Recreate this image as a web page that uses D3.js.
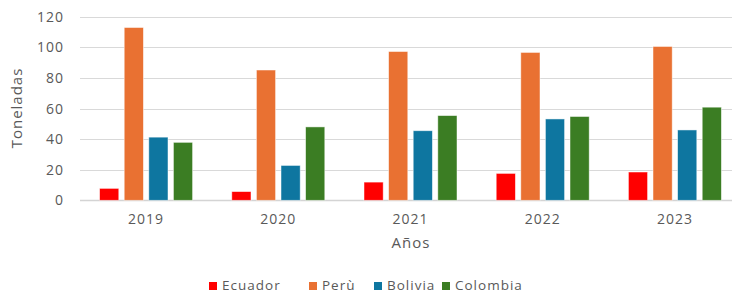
<!DOCTYPE html>
<html lang="es">
  <head>
    <meta charset="utf-8">
    <title>Toneladas por año</title>
    <script src="https://d3js.org/d3.v7.min.js"></script>
    <style>
      body { margin: 0; background: #fff; }
      text { font-family: "Open Sans", sans-serif; fill: #595959; letter-spacing: 1px; }
    </style>
  </head>
  <body>
    <div id="chart"></div>
    <script>
      var w = 732;
      var h = 294;

      // data
      var years = ["2019", "2020", "2021", "2022", "2023"];
      var countries = ["Ecuador", "Perù", "Bolivia", "Colombia"];
      var ecuador  = [7.8, 5.7, 11.9, 17.6, 18.5];
      var peru     = [113, 85.2, 97.3, 96.7, 100.6];
      var bolivia  = [41.3, 22.8, 45.5, 53.2, 46];
      var colombia = [37.9, 48, 55.4, 54.8, 60.9];
      var yTicks = [0, 20, 40, 60, 80, 100, 120];
      var colors = ["#ff0000", "#e97132", "#0e76a0", "#3b7d23"];

      var series = [ecuador, peru, bolivia, colombia];

      var svg = d3.select("#chart")
                  .append("svg")
                  .attr("width", w)
                  .attr("height", h);

      var x = d3.scaleBand()
                .domain(years)
                .range([80, 741]);

      var y = d3.scaleLinear()
                .domain([0, 120])
                .range([200.3, 16.8]);

      // gridlines
      svg.append("g")
         .selectAll("line")
         .data(yTicks)
         .enter()
         .append("line")
         .attr("x1", 80)
         .attr("x2", w)
         .attr("y1", function(d) { return Math.round(y(d)) + 0.5; })
         .attr("y2", function(d) { return Math.round(y(d)) + 0.5; })
         .style("stroke", function(d) { return d === 0 ? "#d4d4d4" : "#d9d9d9"; })
         .style("stroke-width", function(d) { return d === 0 ? 1.5 : 1.2; });

      // y labels
      svg.append("g")
         .selectAll("text")
         .data(yTicks)
         .enter()
         .append("text")
         .attr("x", 64)
         .attr("y", function(d) { return y(d) + 5; })
         .attr("text-anchor", "end")
         .style("font-size", "14px")
         .text(function(d) { return d; });

      // bars
      var inner = d3.scaleBand()
                    .domain(countries)
                    .range([-46.5, 46.5])
                    .paddingInner(0.22);

      var groups = svg.append("g")
                      .selectAll("g")
                      .data(years)
                      .enter()
                      .append("g")
                      .attr("transform", function(d) {
                        return "translate(" + (x(d) + x.bandwidth() / 2) + ",0)";
                      });

      groups.selectAll("rect")
            .data(function(d, i) {
              return countries.map(function(c, j) {
                return { country: c, value: series[j][i], color: colors[j] };
              });
            })
            .enter()
            .append("rect")
            .attr("x", function(d) { return inner(d.country); })
            .attr("y", function(d) { return y(d.value); })
            .attr("width", inner.bandwidth())
            .attr("height", function(d) { return y(0) - y(d.value); })
            .style("fill", function(d) { return d.color; })
            .style("stroke", "rgba(255,255,255,0.6)")
            .style("stroke-width", 0.8);

      // x labels
      svg.append("g")
         .selectAll("text")
         .data(years)
         .enter()
         .append("text")
         .attr("x", function(d) { return x(d) + x.bandwidth() / 2; })
         .attr("y", 224)
         .attr("text-anchor", "middle")
         .style("font-size", "14px")
         .text(function(d) { return d; });

      // axis titles
      svg.append("text")
         .attr("x", 411)
         .attr("y", 248)
         .attr("text-anchor", "middle")
         .style("font-size", "15px")
         .text("Años");

      svg.append("text")
         .attr("transform", "translate(22,108) rotate(-90)")
         .attr("text-anchor", "middle")
         .style("font-size", "15px")
         .text("Toneladas");

      // legend
      var legendX = [209, 309, 374, 442];
      var legend = svg.append("g")
                      .selectAll("g")
                      .data(countries)
                      .enter()
                      .append("g")
                      .attr("transform", function(d, i) {
                        return "translate(" + legendX[i] + ",282)";
                      });

      legend.append("rect")
            .attr("width", 8)
            .attr("height", 8)
            .style("fill", function(d, i) { return colors[i]; });

      legend.append("text")
            .attr("x", 13)
            .attr("y", 8)
            .style("font-size", "13.5px")
            .text(function(d) { return d; });
    </script>
  </body>
</html>
